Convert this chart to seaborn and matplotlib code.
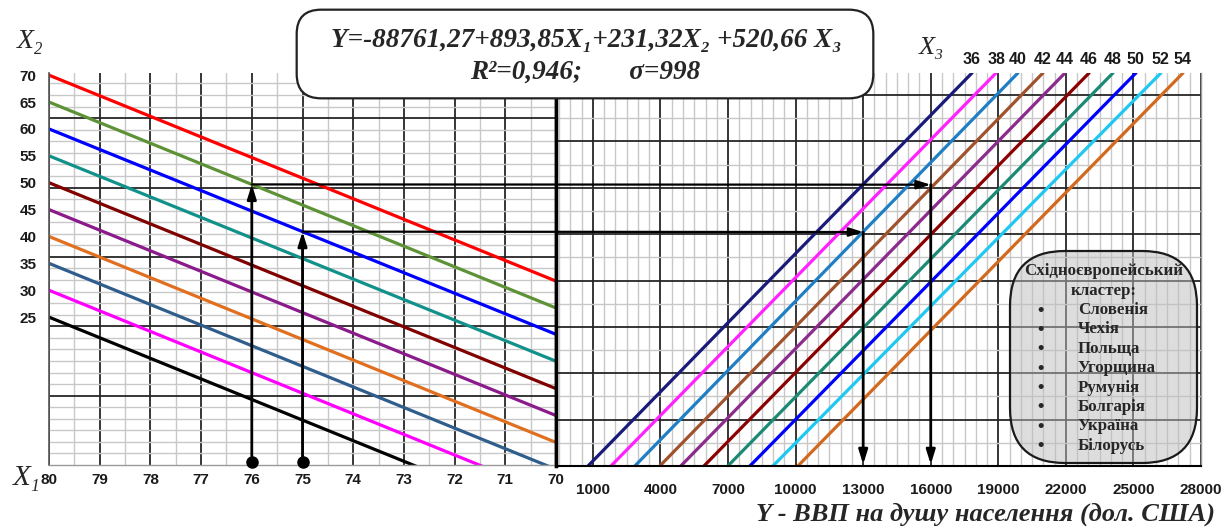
import numpy as np
import pandas as pd
import matplotlib
matplotlib.use("Agg")
import matplotlib.pyplot as plt
import seaborn as sns
from matplotlib.patches import FancyBboxPatch, ConnectionPatch
from matplotlib.ticker import MultipleLocator, FixedLocator

# ---------------- data ----------------
X1_TICKS = [80, 79, 78, 77, 76, 75, 74, 73, 72, 71, 70]
X2_LEVELS = [70, 65, 60, 55, 50, 45, 40, 35, 30, 25]
X2_U_AT_X1_80 = [70, 65, 60, 55, 50, 45, 40, 35, 30, 25]
X2_U_AT_X1_70 = [31.7, 26.7, 21.8, 16.8, 11.7, 6.7, 1.7, -3.3, -8.3, -13.3]
X2_COLORS = ["#ff0000", "#5e9236", "#0000ff", "#12918a", "#800000",
             "#8b1a8b", "#e07020", "#2f5d8c", "#ff00ff", "#000000"]

X3_LEVELS = [36, 38, 40, 42, 44, 46, 48, 50, 52, 54]
X3_Y_AT_BOTTOM = [780, 1800, 2860, 3970, 4900, 5930, 6990, 7970, 8990, 10100]
X3_Y_AT_TOP = [17830, 18900, 19870, 20980, 21960, 23030, 24090, 25110, 26220, 27200]
X3_COLORS = ["#1a1a7a", "#ff22ff", "#1f7fc4", "#a0522d", "#8b2b8b",
             "#8b0000", "#1b8a74", "#0000ff", "#1ec8f0", "#d2691e"]

Y_TICKS = [1000, 4000, 7000, 10000, 13000, 16000, 19000, 22000, 25000, 28000]

EX_X1 = [76, 75]
EX_X2 = [65, 60]
EX_Y = [16000, 13000]

COUNTRIES = ["Словенія", "Чехія", "Польща", "Угорщина",
             "Румунія", "Болгарія", "Україна", "Білорусь"]

# ---------------- layout helpers ----------------
W, H = 1221, 528
U_MIN, U_MAX = -2.5, 70.4
Y_MIN, Y_MAX = -640, 28000


def fx(px):
    return px / W


def fy(py):
    return 1 - py / H


sns.set_theme(style="white")
plt.rcParams["font.family"] = ["Liberation Sans", "DejaVu Sans"]
SANS_N = ["Liberation Sans", "DejaVu Sans"]
SERIF = ["Liberation Serif", "DejaVu Serif"]

fig = plt.figure(figsize=(W / 100, H / 100), dpi=100)
fig.patch.set_facecolor("white")
ax1 = fig.add_axes([fx(49), fy(465), fx(556 - 49), (465 - 73) / H])
ax2 = fig.add_axes([fx(556), fy(466), fx(1201 - 556), (466 - 73) / H])

MAJ = "#262626"
MIN = "#c8c8c8"

# ---------------- left panel ----------------
rows = []
for lev, a, b in zip(X2_LEVELS, X2_U_AT_X1_80, X2_U_AT_X1_70):
    rows.append({"X1": 80, "u": a, "X2": lev})
    rows.append({"X1": 70, "u": b, "X2": lev})
df_left = pd.DataFrame(rows)
sns.lineplot(data=df_left, x="X1", y="u", hue="X2",
             palette=dict(zip(X2_LEVELS, X2_COLORS)), legend=False,
             estimator=None, sort=False, lw=2.3, ax=ax1)
ax1.set_xlim(80, 70)
ax1.set_ylim(U_MIN, U_MAX)
ax1.set_xticks(X1_TICKS)
ax1.xaxis.set_minor_locator(MultipleLocator(0.5))
ax1.grid(which="major", axis="x", color=MAJ, lw=1.3)
ax1.grid(which="minor", axis="x", color=MIN, lw=1.0)
step_l = 12.9 / 6
for k, v in enumerate(np.arange(U_MIN, U_MAX, step_l)):
    if k == 0:
        continue
    ax1.axhline(v, color=MAJ if k % 6 == 0 else MIN,
                lw=1.3 if k % 6 == 0 else 1.0, zorder=0.6)
ax1.set_yticks(X2_LEVELS)
ax1.set_yticklabels([str(v) for v in X2_LEVELS])
ax1.set_xticklabels([str(v) for v in X1_TICKS])
ax1.tick_params(axis="both", which="both", length=0)
ax1.tick_params(axis="x", pad=6)
ax1.tick_params(axis="y", pad=9)
for lab in ax1.get_xticklabels() + ax1.get_yticklabels():
    lab.set_fontfamily(SANS_N)
    lab.set_fontweight("bold")
    lab.set_fontsize(11)
    lab.set_color("#1a1a1a")
ax1.set_xlabel("")
ax1.set_ylabel("")
ax1.spines["top"].set_visible(False)
ax1.spines["left"].set_color("#555555")
ax1.spines["left"].set_linewidth(1.2)
ax1.spines["bottom"].set_color("#9a9a9a")
ax1.spines["bottom"].set_linewidth(1.0)
ax1.spines["right"].set_color("black")
ax1.spines["right"].set_linewidth(2.5)

# ---------------- right panel ----------------
rows = []
for lev, a, b in zip(X3_LEVELS, X3_Y_AT_BOTTOM, X3_Y_AT_TOP):
    rows.append({"Y": a, "u": U_MIN, "X3": lev})
    rows.append({"Y": b, "u": U_MAX, "X3": lev})
df_right = pd.DataFrame(rows)
sns.lineplot(data=df_right, x="Y", y="u", hue="X3",
             palette=dict(zip(X3_LEVELS, X3_COLORS)), legend=False,
             estimator=None, sort=False, lw=2.3, ax=ax2)
ax2.set_xlim(Y_MIN, Y_MAX)
ax2.set_ylim(U_MIN, U_MAX)
ax2.xaxis.set_major_locator(FixedLocator(Y_TICKS))
ax2.xaxis.set_minor_locator(MultipleLocator(500))
ax2.set_xticklabels([str(v) for v in Y_TICKS])
ax2.grid(which="major", axis="x", color=MAJ, lw=1.3)
ax2.grid(which="minor", axis="x", color=MIN, lw=1.0)
step_r = 8.6 / 2
for k, v in enumerate(np.arange(U_MIN, U_MAX, step_r)):
    if k == 0:
        continue
    ax2.axhline(v, color=MAJ if k % 2 == 0 else MIN,
                lw=1.3 if k % 2 == 0 else 1.0, zorder=0.6)
ax2.set_yticks([])
ax2.tick_params(axis="both", which="both", length=0)
ax2.tick_params(axis="x", pad=12)
for lab in ax2.get_xticklabels():
    lab.set_fontfamily(SANS_N)
    lab.set_fontweight("bold")
    lab.set_fontsize(11)
    lab.set_color("#1a1a1a")
ax2.set_xlabel("")
ax2.set_ylabel("")
ax2.spines["top"].set_visible(False)
ax2.spines["left"].set_color("black")
ax2.spines["left"].set_linewidth(2.5)
ax2.spines["bottom"].set_color("black")
ax2.spines["bottom"].set_linewidth(1.5)
ax2.spines["right"].set_color("#9a9a9a")
ax2.spines["right"].set_linewidth(1.0)

# X3 labels above line tops
for yt, lev in zip(X3_Y_AT_TOP, X3_LEVELS):
    ax2.annotate(str(lev), xy=(yt, U_MAX), xytext=(0, 9.5),
                 textcoords="offset points", ha="center", va="center",
                 fontsize=11.5, fontweight="bold", family=SANS_N,
                 color="#1a1a1a", annotation_clip=False)

# ---------------- example arrows ----------------
arrow_style = "-|>,head_length=0.7,head_width=0.22"
for x1, x2, yv in zip(EX_X1, EX_X2, EX_Y):
    i = X2_LEVELS.index(x2)
    u = X2_U_AT_X1_80[i] + (X2_U_AT_X1_70[i] - X2_U_AT_X1_80[i]) * (80 - x1) / 10
    u0 = U_MIN + 0.55
    ax1.annotate("", xy=(x1, u), xytext=(x1, u0),
                 arrowprops=dict(arrowstyle=arrow_style, color="black",
                                 lw=2.0, shrinkA=0, shrinkB=0), zorder=5)
    ax1.plot([x1], [u0], "o", color="black", ms=8, clip_on=False, zorder=6)
    con = ConnectionPatch(xyA=(x1, u), coordsA=ax1.transData,
                          xyB=(yv, u), coordsB=ax2.transData,
                          arrowstyle=arrow_style, color="black", lw=1.6,
                          shrinkA=0, shrinkB=0, mutation_scale=12)
    fig.add_artist(con)
    ax2.annotate("", xy=(yv, U_MIN + 0.3), xytext=(yv, u),
                 arrowprops=dict(arrowstyle=arrow_style, color="black",
                                 lw=2.0, shrinkA=0, shrinkB=0), zorder=5)

# ---------------- equation box ----------------
eq_box = FancyBboxPatch((fx(304), fy(91)), fx(866 - 304), (91 - 17) / H,
                        boxstyle="round,pad=0.006,rounding_size=0.02",
                        transform=fig.transFigure, facecolor="white",
                        edgecolor="#222222", lw=1.6, zorder=3,
                        mutation_aspect=W / H)
fig.add_artist(eq_box)
fig.text(fx(586), fy(40), "Y=-88761,27+893,85X₁+231,32X₂ +520,66 X₃",
         ha="center", va="center", fontsize=19.5, fontweight="bold",
         style="italic", family=SERIF, zorder=4)
fig.text(fx(470), fy(72), "R²=0,946;       σ=998",
         ha="left", va="center", fontsize=19.5, fontweight="bold",
         style="italic", family=SERIF, zorder=4)

# ---------------- axis letters ----------------
fig.text(fx(30), fy(42), "X₂", ha="center", va="center", fontsize=20,
         style="italic", family=SERIF)
fig.text(fx(27), fy(478), "X₁", ha="center", va="center", fontsize=21,
         style="italic", family=SERIF)
fig.text(fx(932), fy(48), "X₃", ha="center", va="center", fontsize=19,
         style="italic", family=SERIF)
fig.text(fx(1215), fy(514), "Y - ВВП на душу населення (дол. США)",
         ha="right", va="center", fontsize=19, fontweight="bold",
         style="italic", family=SERIF)

# ---------------- cluster legend box ----------------
lg_box = FancyBboxPatch((fx(1010), fy(463)), fx(1197 - 1010), (463 - 251) / H,
                        boxstyle="round,pad=0.0,rounding_size=0.045",
                        transform=fig.transFigure,
                        facecolor=(0.74, 0.74, 0.74, 0.5),
                        edgecolor="#1a1a1a", lw=1.6, zorder=3,
                        mutation_aspect=W / H)
fig.add_artist(lg_box)
fig.text(fx(1104), fy(271), "Східноєвропейський", ha="center", va="center",
         fontsize=12.2, fontweight="bold", family=SERIF, zorder=4)
fig.text(fx(1104), fy(291), "кластер:", ha="center", va="center",
         fontsize=12.2, fontweight="bold", family=SERIF, zorder=4)
for j, name in enumerate(COUNTRIES):
    py = 310 + j * 19.4
    fig.text(fx(1041), fy(py), "•", ha="center", va="center",
             fontsize=13, fontweight="bold", family=SANS_N, zorder=4)
    fig.text(fx(1078), fy(py), name, ha="left", va="center",
             fontsize=12.2, fontweight="bold", family=SERIF, zorder=4)

fig.savefig("out.png", dpi=100)
